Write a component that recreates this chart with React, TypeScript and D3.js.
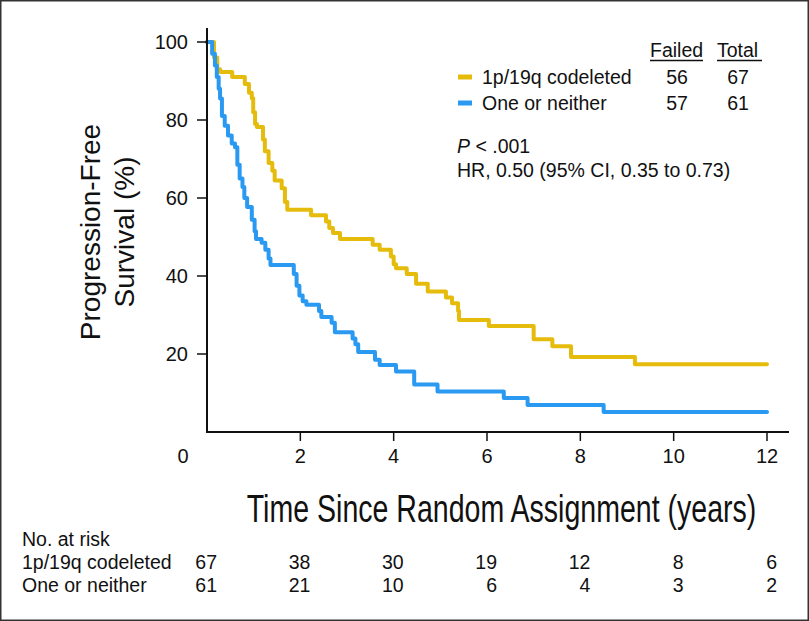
import React from "react";
import * as d3 from "d3";

const codelTimes = [0, 0.15, 0.22, 0.28, 0.54, 0.81, 0.9, 0.96, 0.99, 1.03, 1.07, 1.2, 1.24, 1.32, 1.4, 1.45, 1.6, 1.67, 1.72, 2.23, 2.55, 2.62, 2.7, 2.85, 3.55, 3.7, 3.94, 4.0, 4.05, 4.28, 4.48, 4.73, 5.12, 5.25, 5.38, 5.4, 6.04, 7.0, 7.4, 7.8, 9.17, 12];
const codelSurv = [100, 96, 93, 92.3, 91, 89.2, 87, 85.6, 82, 79, 78.2, 75, 72, 69, 67, 64.5, 62.5, 59, 57, 55.6, 54, 52.3, 51, 49.5, 48, 46.7, 45, 43, 42, 40.5, 38, 36, 34.5, 33, 31, 28.7, 27.2, 23.8, 22, 19.2, 17.4, 17.4];

const otherTimes = [0, 0.11, 0.17, 0.21, 0.25, 0.28, 0.32, 0.38, 0.45, 0.53, 0.6, 0.65, 0.7, 0.76, 0.8, 0.86, 0.96, 1.02, 1.05, 1.17, 1.25, 1.32, 1.36, 1.86, 1.92, 1.98, 2.05, 2.13, 2.4, 2.45, 2.67, 2.74, 3.12, 3.18, 3.24, 3.6, 3.7, 4.05, 4.44, 4.94, 6.36, 6.87, 8.5, 12];
const otherSurv = [100, 97, 94, 91, 88, 85.5, 81, 78.5, 76, 74, 73, 68.5, 65, 62.8, 60, 57.7, 54.4, 51.5, 49.5, 48.5, 46.7, 44.5, 42.8, 40.5, 37.5, 35, 33.5, 32.6, 31, 29.5, 28, 25.6, 24, 22.5, 20.5, 18.5, 17.2, 15.5, 12.2, 10.4, 8.7, 6.9, 5.1, 5.1];

const xTicks = [0, 2, 4, 6, 8, 10, 12];
const yTicks = [20, 40, 60, 80, 100];
const riskTimes = [0, 2, 4, 6, 8, 10, 12];
const riskCodel = [67, 38, 30, 19, 12, 8, 6];
const riskOther = [61, 21, 10, 6, 4, 3, 2];
const groupNames = ["1p/19q codeleted", "One or neither"];
const failed = [56, 57];
const totals = [67, 61];

const W = 809;
const H = 621;
const FONT = "'Liberation Sans', Arial, Helvetica, sans-serif";
const YELLOW = "#E6BC0C";
const BLUE = "#2A99F2";

export default function App() {
  const x = d3.scaleLinear().domain([0, 12]).range([207, 767]);
  const y = d3.scaleLinear().domain([0, 100]).range([432, 42]);
  const line = d3
    .line<[number, number]>()
    .x((d) => x(d[0]))
    .y((d) => y(d[1]))
    .curve(d3.curveStepAfter);
  const codel: [number, number][] = codelTimes.map((t, i) => [t, codelSurv[i]]);
  const other: [number, number][] = otherTimes.map((t, i) => [t, otherSurv[i]]);
  const colors = [YELLOW, BLUE];

  return (
    <svg
      width={W}
      height={H}
      style={{ position: "absolute", left: 0, top: 0, background: "#fff" }}
      fontFamily={FONT}
    >
      <rect x={0} y={0} width={W} height={H} fill="#fff" />
      <rect x={0.75} y={0.75} width={W - 1.5} height={H - 1.5} fill="none" stroke="#333" strokeWidth={1.5} />

      {/* curves */}
      <path d={line(codel) || ""} fill="none" stroke={YELLOW} strokeWidth={4} strokeLinejoin="round" strokeLinecap="round" />
      <path d={line(other) || ""} fill="none" stroke={BLUE} strokeWidth={4} strokeLinejoin="round" strokeLinecap="round" />

      {/* axes */}
      <line x1={207} x2={207} y1={28} y2={433} stroke="#111" strokeWidth={2} />
      <line x1={206} x2={789} y1={432} y2={432} stroke="#111" strokeWidth={2} />
      {yTicks.map((v) => (
        <g key={"y" + v}>
          <line x1={197} x2={207} y1={y(v)} y2={y(v)} stroke="#111" strokeWidth={1.5} />
          <text x={188} y={y(v) + 7} fontSize={20} textAnchor="end" fill="#111">
            {v}
          </text>
        </g>
      ))}
      {xTicks.map((v) => (
        <g key={"x" + v}>
          {v > 0 && <line x1={x(v)} x2={x(v)} y1={432} y2={441} stroke="#111" strokeWidth={1.5} />}
          <text x={v === 0 ? 183 : x(v)} y={463} fontSize={20} textAnchor="middle" fill="#111">
            {v}
          </text>
        </g>
      ))}

      {/* axis titles */}
      <text transform="translate(100,232) rotate(-90)" fontSize={28} textAnchor="middle" fill="#111">
        Progression-Free
      </text>
      <text transform="translate(134,232) rotate(-90)" fontSize={28} textAnchor="middle" fill="#111">
        Survival (%)
      </text>
      <text transform="translate(501.5,522) scale(0.732,1)" x={0} y={0} fontSize={39} textAnchor="middle" fill="#111">
        Time Since Random Assignment (years)
      </text>

      {/* legend */}
      <text x={650} y={57} fontSize={19.5} fill="#111">Failed</text>
      <line x1={650} x2={703} y1={60.5} y2={60.5} stroke="#111" strokeWidth={1.3} />
      <text x={717} y={57} fontSize={19.5} fill="#111">Total</text>
      <line x1={717} x2={762} y1={60.5} y2={60.5} stroke="#111" strokeWidth={1.3} />
      {groupNames.map((g, i) => (
        <g key={g}>
          <line x1={458} x2={472} y1={77 + i * 26} y2={77 + i * 26} stroke={colors[i]} strokeWidth={5} />
          <text x={482} y={84 + i * 26} fontSize={19.5} fill="#111">{g}</text>
          <text x={677} y={84 + i * 26} fontSize={19.5} textAnchor="middle" fill="#111">{failed[i]}</text>
          <text x={738} y={84 + i * 26} fontSize={19.5} textAnchor="middle" fill="#111">{totals[i]}</text>
        </g>
      ))}
      <text x={457} y={153} fontSize={19.5} fill="#111">
        <tspan fontStyle="italic">P</tspan>
        {" < .001"}
      </text>
      <text x={457} y={177} fontSize={19.5} fill="#111">
        HR, 0.50 (95% CI, 0.35 to 0.73)
      </text>

      {/* at risk */}
      <text x={22} y={546} fontSize={19.5} fill="#111">No. at risk</text>
      <text x={22} y={569} fontSize={19.5} fill="#111">{groupNames[0]}</text>
      <text x={22} y={592} fontSize={19.5} fill="#111">{groupNames[1]}</text>
      {riskTimes.map((t, i) => (
        <g key={"r" + t}>
          <text x={x(t) + 10} y={569} fontSize={19.5} textAnchor="end" fill="#111">{riskCodel[i]}</text>
          <text x={x(t) + 10} y={592} fontSize={19.5} textAnchor="end" fill="#111">{riskOther[i]}</text>
        </g>
      ))}
    </svg>
  );
}
